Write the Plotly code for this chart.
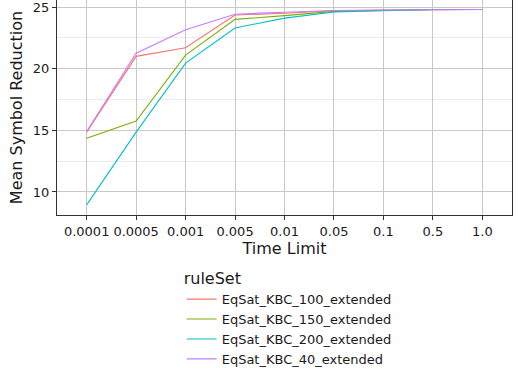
import plotly.graph_objects as go

time_limits = ["0.0001", "0.0005", "0.001", "0.005", "0.01", "0.05", "0.1", "0.5", "1.0"]
kbc_100 = [14.85, 21.0, 21.7, 24.35, 24.5, 24.7, 24.75, 24.8, 24.8]
kbc_150 = [14.35, 15.75, 21.1, 24.0, 24.3, 24.65, 24.72, 24.8, 24.8]
kbc_200 = [8.95, 14.85, 20.45, 23.3, 24.1, 24.6, 24.7, 24.8, 24.8]
kbc_40 = [14.9, 21.25, 23.15, 24.42, 24.58, 24.72, 24.76, 24.8, 24.8]

series = [
    ("EqSat_KBC_100_extended", kbc_100, "#F8766D"),
    ("EqSat_KBC_150_extended", kbc_150, "#7CAE00"),
    ("EqSat_KBC_200_extended", kbc_200, "#00BFC4"),
    ("EqSat_KBC_40_extended", kbc_40, "#C77CFF"),
]

fig = go.Figure()
for name, vals, col in series:
    fig.add_trace(go.Scatter(x=time_limits, y=vals, mode="lines", name=name,
                             line=dict(color=col, width=1.1)))

font = "DejaVu Sans"
fig.update_layout(
    width=518, height=370,
    margin=dict(l=57, r=6, t=0, b=155, autoexpand=False),
    paper_bgcolor="white", plot_bgcolor="white",
    font=dict(family=font, color="#1a1a1a", size=13),
    legend=dict(
        title=dict(text="ruleSet", font=dict(size=16), side="top"),
        x=0.274, y=-0.225, xanchor="left", yanchor="top",
        font=dict(size=13), tracegroupgap=0, itemwidth=30,
        bgcolor="rgba(0,0,0,0)",
    ),
    xaxis=dict(
        type="category", categoryorder="array", categoryarray=time_limits,
        range=[-0.6, 8.6], automargin=False,
        title=dict(text="Time Limit", font=dict(size=16), standoff=2),
        showgrid=True, gridcolor="#c8c8c8", gridwidth=1,
        showline=True, linecolor="#333333", linewidth=1, mirror=True,
        ticks="outside", ticklen=4, tickcolor="#333333",
        tickfont=dict(size=13), zeroline=False,
    ),
    yaxis=dict(
        range=[8.13, 25.57], automargin=False,
        tickvals=[10, 15, 20, 25], ticklabeloverflow="allow",
        title=dict(text="Mean Symbol Reduction", font=dict(size=16), standoff=6),
        showgrid=True, gridcolor="#c8c8c8", gridwidth=1,
        minor=dict(tickvals=[12.5, 17.5, 22.5], showgrid=True, gridcolor="#ebebeb", gridwidth=1),
        showline=True, linecolor="#333333", linewidth=1, mirror=True,
        ticks="outside", ticklen=4, tickcolor="#333333",
        tickfont=dict(size=13), zeroline=False,
    ),
)

fig.write_html("out.html", config={"displayModeBar": False},
               post_script="document.body.style.margin='0';document.body.style.padding='0';")
